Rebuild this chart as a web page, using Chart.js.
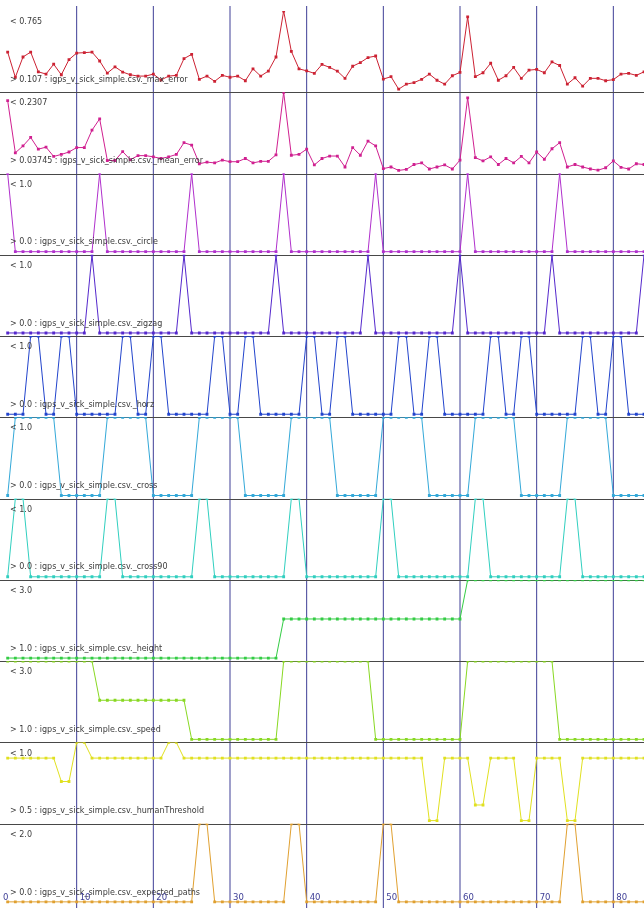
<!DOCTYPE html>
<html>
<head>
<meta charset="utf-8">
<script src="https://cdn.jsdelivr.net/npm/chart.js@4"></script>
<style>
  html, body { margin: 0; padding: 0; background: #fff; }
  canvas { display: block; }
</style>
</head>
<body>
<canvas id="myChart" width="644" height="908"></canvas>
<script>
// one strip per series, samples 1..84
const seriesNames = [
    'igps_v_sick_simple.csv._max_error',
    'igps_v_sick_simple.csv._mean_error',
    'igps_v_sick_simple.csv._circle',
    'igps_v_sick_simple.csv._zigzag',
    'igps_v_sick_simple.csv._horz',
    'igps_v_sick_simple.csv._cross',
    'igps_v_sick_simple.csv._cross90',
    'igps_v_sick_simple.csv._height',
    'igps_v_sick_simple.csv._speed',
    'igps_v_sick_simple.csv._humanThreshold',
    'igps_v_sick_simple.csv._expected_paths',
];
const rangeMax = ['0.765', '0.2307', '1.0', '1.0', '1.0', '1.0', '1.0', '3.0', '3.0', '1.0', '2.0'];
const rangeMin = ['0.107', '0.03745', '0.0', '0.0', '0.0', '0.0', '0.0', '1.0', '1.0', '0.5', '0.0'];
const seriesColors = ['#cc2233', '#d02090', '#b030cc', '#5528cc', '#2244cc', '#33a8d8',
    '#30cfbf', '#33cc44', '#88d822', '#e0e020', '#e0a030'];

const xTickValues = [0, 10, 20, 30, 40, 50, 60, 70, 80];
const xTickLabels = ['0', '10', '20', '30', '40', '50', '60', '70', '80'];

const maxError = [0.419, 0.207, 0.378, 0.419, 0.253, 0.234, 0.317, 0.228, 0.356, 0.411,
    0.414, 0.419, 0.344, 0.242, 0.295, 0.251, 0.228, 0.217, 0.217, 0.234,
    0.184, 0.217, 0.223, 0.364, 0.400, 0.190, 0.217, 0.173, 0.223, 0.207,
    0.217, 0.178, 0.278, 0.217, 0.259, 0.378, 0.765, 0.425, 0.278, 0.261,
    0.240, 0.315, 0.290, 0.259, 0.198, 0.300, 0.331, 0.373, 0.386, 0.192,
    0.212, 0.107, 0.149, 0.162, 0.190, 0.234, 0.182, 0.149, 0.220, 0.248,
    0.715, 0.212, 0.245, 0.325, 0.182, 0.220, 0.290, 0.198, 0.267, 0.273,
    0.245, 0.336, 0.306, 0.149, 0.203, 0.132, 0.198, 0.198, 0.178, 0.187,
    0.234, 0.240, 0.223, 0.253];
const meanError = [0.210, 0.081, 0.098, 0.119, 0.090, 0.095, 0.072, 0.077, 0.083, 0.094,
    0.094, 0.137, 0.165, 0.062, 0.062, 0.084, 0.064, 0.074, 0.074, 0.071,
    0.067, 0.071, 0.077, 0.106, 0.100, 0.054, 0.058, 0.056, 0.063, 0.059,
    0.059, 0.067, 0.056, 0.060, 0.060, 0.076, 0.2307, 0.075, 0.077, 0.090,
    0.051, 0.067, 0.073, 0.073, 0.046, 0.094, 0.075, 0.110, 0.098, 0.042,
    0.046, 0.03745, 0.040, 0.052, 0.056, 0.041, 0.046, 0.051, 0.041, 0.063,
    0.217, 0.069, 0.061, 0.071, 0.052, 0.067, 0.056, 0.072, 0.056, 0.083,
    0.065, 0.091, 0.106, 0.046, 0.052, 0.046, 0.041, 0.038, 0.044, 0.061,
    0.045, 0.041, 0.054, 0.052];
const circle = [1,0,0,0,0,0,0,0,0,0,0,0, 1,0,0,0,0,0,0,0,0,0,0,0, 1,0,0,0,0,0,0,0,0,0,0,0,
    1,0,0,0,0,0,0,0,0,0,0,0, 1,0,0,0,0,0,0,0,0,0,0,0, 1,0,0,0,0,0,0,0,0,0,0,0,
    1,0,0,0,0,0,0,0,0,0,0,0];
const zigzag = [0,0,0,0,0,0,0,0,0,0,0,1, 0,0,0,0,0,0,0,0,0,0,0,1, 0,0,0,0,0,0,0,0,0,0,0,1,
    0,0,0,0,0,0,0,0,0,0,0,1, 0,0,0,0,0,0,0,0,0,0,0,1, 0,0,0,0,0,0,0,0,0,0,0,1,
    0,0,0,0,0,0,0,0,0,0,0,1];
const horz = [0,0,0,1,1,0,0,1,1,0,0,0, 0,0,0,1,1,0,0,1,1,0,0,0, 0,0,0,1,1,0,0,1,1,0,0,0,
    0,0,0,1,1,0,0,1,1,0,0,0, 0,0,0,1,1,0,0,1,1,0,0,0, 0,0,0,1,1,0,0,1,1,0,0,0,
    0,0,0,1,1,0,0,1,1,0,0,0];
const cross = [0,1,1,1,1,1,1,0,0,0,0,0, 0,1,1,1,1,1,1,0,0,0,0,0, 0,1,1,1,1,1,1,0,0,0,0,0,
    0,1,1,1,1,1,1,0,0,0,0,0, 0,1,1,1,1,1,1,0,0,0,0,0, 0,1,1,1,1,1,1,0,0,0,0,0,
    0,1,1,1,1,1,1,0,0,0,0,0];
const cross90 = [0,1,1,0,0,0,0,0,0,0,0,0, 0,1,1,0,0,0,0,0,0,0,0,0, 0,1,1,0,0,0,0,0,0,0,0,0,
    0,1,1,0,0,0,0,0,0,0,0,0, 0,1,1,0,0,0,0,0,0,0,0,0, 0,1,1,0,0,0,0,0,0,0,0,0,
    0,1,1,0,0,0,0,0,0,0,0,0];
const height = [1,1,1,1,1,1,1,1,1,1,1,1, 1,1,1,1,1,1,1,1,1,1,1,1, 1,1,1,1,1,1,1,1,1,1,1,1,
    2,2,2,2,2,2,2,2,2,2,2,2, 2,2,2,2,2,2,2,2,2,2,2,2, 3,3,3,3,3,3,3,3,3,3,3,3,
    3,3,3,3,3,3,3,3,3,3,3,3];
const speed = [3,3,3,3,3,3,3,3,3,3,3,3, 2,2,2,2,2,2,2,2,2,2,2,2, 1,1,1,1,1,1,1,1,1,1,1,1,
    3,3,3,3,3,3,3,3,3,3,3,3, 1,1,1,1,1,1,1,1,1,1,1,1, 3,3,3,3,3,3,3,3,3,3,3,3,
    1,1,1,1,1,1,1,1,1,1,1,1];
const humanThreshold = [0.9, 0.9, 0.9, 0.9, 0.9, 0.9, 0.9, 0.75, 0.75, 1.0, 1.0, 0.9,
    0.9, 0.9, 0.9, 0.9, 0.9, 0.9, 0.9, 0.9, 0.9, 1.0, 1.0, 0.9,
    0.9, 0.9, 0.9, 0.9, 0.9, 0.9, 0.9, 0.9, 0.9, 0.9, 0.9, 0.9,
    0.9, 0.9, 0.9, 0.9, 0.9, 0.9, 0.9, 0.9, 0.9, 0.9, 0.9, 0.9,
    0.9, 0.9, 0.9, 0.9, 0.9, 0.9, 0.9, 0.5, 0.5, 0.9, 0.9, 0.9,
    0.9, 0.6, 0.6, 0.9, 0.9, 0.9, 0.9, 0.5, 0.5, 0.9, 0.9, 0.9,
    0.9, 0.5, 0.5, 0.9, 0.9, 0.9, 0.9, 0.9, 0.9, 0.9, 0.9, 0.9];
const expectedPaths = [0,0,0,0,0,0,0,0,0,0,0,0, 0,0,0,0,0,0,0,0,0,0,0,0, 0,2,2,0,0,0,0,0,0,0,0,0,
    0,2,2,0,0,0,0,0,0,0,0,0, 0,2,2,0,0,0,0,0,0,0,0,0, 0,0,0,0,0,0,0,0,0,0,0,0,
    0,2,2,0,0,0,0,0,0,0,0,0];

const seriesValues = [maxError, meanError, circle, zigzag, horz, cross, cross90,
    height, speed, humanThreshold, expectedPaths];

const datasets = seriesValues.map((vals, k) => ({
    label: seriesNames[k],
    data: vals.map((v, i) => ({ x: i + 1, y: v })),
    yAxisID: 'y' + k,
    borderColor: seriesColors[k],
    backgroundColor: seriesColors[k],
    borderWidth: 1,
    pointStyle: 'rect',
    pointRadius: 2,
    pointBorderWidth: 0,
    tension: 0,
}));

const scales = {
    x: {
        type: 'linear',
        display: false,
        min: 0,
        max: 84,
    }
};
// left boxes are stacked last-first, so add the bottom strip first
for (let k = seriesNames.length - 1; k >= 0; k--) {
    const hi = parseFloat(rangeMax[k]);
    const lo = parseFloat(rangeMin[k]);
    scales['y' + k] = {
        type: 'linear',
        display: false,
        position: 'left',
        stack: 'strips',
        stackWeight: 1,
        min: lo - (hi - lo) * 0.04,
        max: hi,
    };
}

const stripDecor = {
    id: 'stripDecor',
    beforeDatasetsDraw(chart) {
        const ctx = chart.ctx;
        const xs = chart.scales.x;
        ctx.save();
        ctx.lineWidth = 1;
        ctx.strokeStyle = '#3e3e96';
        xTickValues.forEach(v => {
            if (v === 0) return;
            const px = xs.getPixelForValue(v);
            ctx.beginPath();
            ctx.moveTo(px, 6);
            ctx.lineTo(px, chart.height);
            ctx.stroke();
        });
        ctx.strokeStyle = '#484848';
        for (let k = 0; k < seriesNames.length - 1; k++) {
            const y = Math.round(chart.scales['y' + k].bottom) + 0.5;
            ctx.beginPath();
            ctx.moveTo(0, y);
            ctx.lineTo(chart.width, y);
            ctx.stroke();
        }
        ctx.restore();
    },
    afterDatasetsDraw(chart) {
        const ctx = chart.ctx;
        const xs = chart.scales.x;
        ctx.save();
        ctx.font = '8px "DejaVu Sans"';
        ctx.textBaseline = 'middle';
        ctx.fillStyle = '#3a3a3a';
        for (let k = 0; k < seriesNames.length; k++) {
            const s = chart.scales['y' + k];
            ctx.fillText('< ' + rangeMax[k], 10, s.top + 11);
            ctx.fillText('> ' + rangeMin[k] + ' : ' + seriesNames[k], 10, s.bottom - 12.5);
        }
        ctx.fillStyle = '#3e3e96';
        ctx.font = '8.5px "DejaVu Sans"';
        xTickValues.forEach((v, i) => {
            ctx.fillText(xTickLabels[i], xs.getPixelForValue(v) + 3, chart.height - 10);
        });
        ctx.restore();
    }
};

const config = {
    type: 'line',
    data: { datasets: datasets },
    options: {
        responsive: false,
        animation: false,
        layout: {
            autoPadding: false,
            padding: { top: 11, bottom: 3, left: 0, right: 0 }
        },
        scales: scales,
        plugins: {
            legend: { display: false },
            tooltip: { enabled: false }
        }
    },
    plugins: [stripDecor]
};

const myChart = new Chart(document.getElementById('myChart').getContext('2d'), config);
</script>
</body>
</html>
